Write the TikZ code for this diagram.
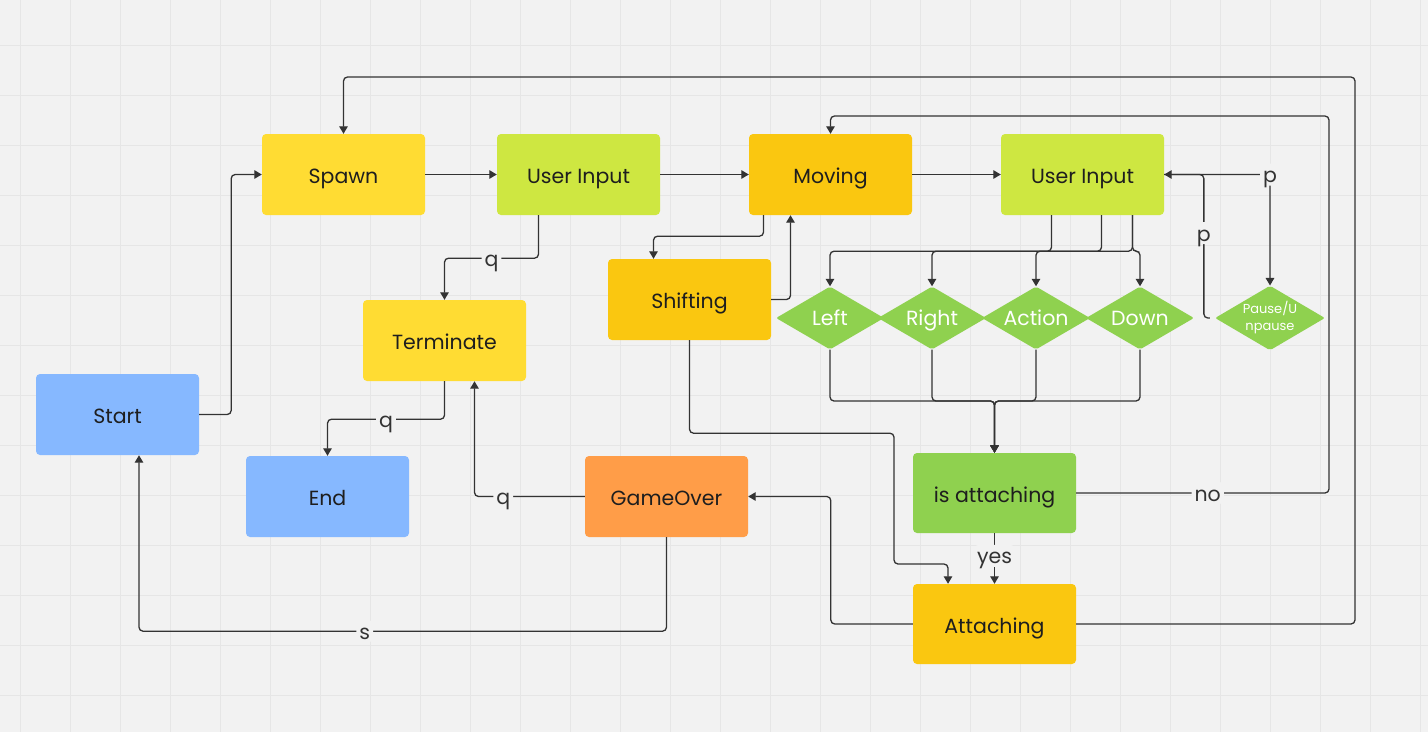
\documentclass[tikz,border=0pt]{standalone}
\usepackage{fontspec}
\setmainfont{Poppins}
\usetikzlibrary{shapes.geometric,arrows.meta,calc}
\definecolor{bg}{HTML}{F2F2F2}
\definecolor{gridc}{HTML}{E6E6E6}
\definecolor{ylw}{HTML}{FFDC33}
\definecolor{amb}{HTML}{FAC710}
\definecolor{lime}{HTML}{CEE741}
\definecolor{grn}{HTML}{8FD14F}
\definecolor{blu}{HTML}{86B8FF}
\definecolor{org}{HTML}{FF9D48}
\definecolor{ln}{HTML}{333333}
\definecolor{txt}{HTML}{1E1E1E}
\tikzset{
  bigfont/.style={font=\fontsize{20.5}{24}\selectfont, text height=18pt, text depth=0pt},
  box/.style={rectangle, rounded corners=4pt, minimum width=163pt, minimum height=81pt, inner sep=0pt, text=txt, bigfont},
  dia/.style={diamond, fill=grn, rounded corners=2pt, minimum width=108pt, minimum height=63pt, inner sep=0pt, aspect=1.7, text=white, font=\fontsize{20.5}{24}\selectfont, text height=15pt, text depth=0pt},
  smalldia/.style={diamond, fill=grn, rounded corners=2pt, minimum width=108pt, minimum height=63pt, inner sep=0pt, aspect=1.7, text=white, font=\fontsize{13}{17}\selectfont, align=center},
  conn/.style={draw=ln, line width=1.3pt, rounded corners=4pt},
  arr/.style={conn, -{Triangle[length=7.5pt,width=8.5pt]}},
  lbl/.style={fill=bg, text=ln, inner sep=3pt, font=\fontsize{20.5}{24}\selectfont, text height=16pt, text depth=0pt},
}
\begin{document}
\begin{tikzpicture}[x=1pt,y=-1pt]
\fill[bg] (0,0) rectangle (1428,732);
\useasboundingbox (0,0) rectangle (1428,732);
\foreach \i in {0,...,28} \draw[gridc, line width=1pt] (20+50*\i,0) -- (20+50*\i,732);
\foreach \j in {0,...,13} \draw[gridc, line width=1pt] (0,45+50*\j) -- (1428,45+50*\j);

\node[box, fill=ylw] (spawn) at (343.5,174.5) {Spawn};
\node[box, fill=lime] (ui1) at (578.5,174.5) {User Input};
\node[box, fill=amb] (moving) at (830.5,174.5) {Moving};
\node[box, fill=lime] (ui2) at (1082.5,174.5) {User Input};
\node[box, fill=amb] (shifting) at (689.5,299.5) {Shifting};
\node[box, fill=ylw] (terminate) at (444.5,340.5) {Terminate};
\node[box, fill=blu] (start) at (117.5,414.5) {Start};
\node[box, fill=blu] (end) at (327.5,496.5) {End};
\node[box, fill=org] (gameover) at (666.5,496.5) {GameOver};
\node[box, fill=grn, minimum height=80pt] (isatt) at (994.5,493) {is attaching};
\node[box, fill=amb, minimum height=80pt] (attaching) at (994.5,624) {Attaching};

\node[dia] (left) at (830,318) {Left};
\node[dia] (right) at (932,318) {Right};
\node[dia] (action) at (1036,318) {Action};
\node[dia] (down) at (1140,318) {Down};
\node[smalldia] (pause) at (1270,318) {Pause/U\\npause};

\coordinate (merge) at (994.5,401);
\coordinate (nocorner) at (1329,116);
\coordinate (spcorner) at (1355,77);
\coordinate (sa1) at (894,564);

\draw[arr] (start.east) -- ++(32,0) |- (spawn.west);
\draw[arr] (spawn) -- (ui1);
\draw[arr] (ui1) -- (moving);
\draw[arr] (moving) -- (ui2);
\draw[arr] ([xshift=-40pt]ui1.south) -- ++(0,43) -| node[lbl, pos=0.25] {q} (terminate.north);
\draw[arr] (terminate.south) -- ++(0,38) -| node[lbl, pos=0.25] {q} (end.north);
\draw[arr] (gameover.west) -| node[lbl, pos=0.37] {q} ([xshift=30pt]terminate.south);
\draw[arr] (gameover.south) -- ++(0,94) -| node[lbl, pos=0.286] {s} ([xshift=21.5pt]start.south);
\draw[arr] ([xshift=-67pt]moving.south) -- ++(0,21) -| ([xshift=-36pt]shifting.north);
\draw[arr] (shifting.east) -| ([xshift=-40pt]moving.south);
\draw[arr] ([xshift=-31pt]ui2.south) -- ++(0,36) -| (action.north);
\draw[arr] ([xshift=19pt]ui2.south) -- ++(0,36) -| (right.north);
\draw[arr] ([xshift=50pt]ui2.south) -- ++(0,36) -| (left.north);
\draw[arr] ([xshift=50pt]ui2.south) -- ++(0,36) -| (down.north);
\foreach \d in {left,right,action,down}
  \draw[arr] (\d.south) |- (merge) -- (isatt.north);
\draw[arr] (ui2.east) -| node[lbl, pos=0.5] {p} (pause.north);
\draw[arr] ([xshift=-5pt]pause.west) -- ++(-6,0) |- node[lbl, pos=0.296] {p} (ui2.east);
\draw[arr] (isatt.east) -| node[lbl, pos=0.26] {no} (nocorner) -| (moving.north);
\draw[arr] (isatt.south) -- node[lbl, pos=0.45] {yes} (attaching.north);
\draw[arr] (shifting.south) -- ++(0,93) -| (sa1) -| ([xshift=-46.5pt]attaching.north);
\draw[arr] (attaching.west) -- ++(-82,0) |- (gameover.east);
\draw[arr] (attaching.east) -| (spcorner) -| (spawn.north);
\end{tikzpicture}
\end{document}
